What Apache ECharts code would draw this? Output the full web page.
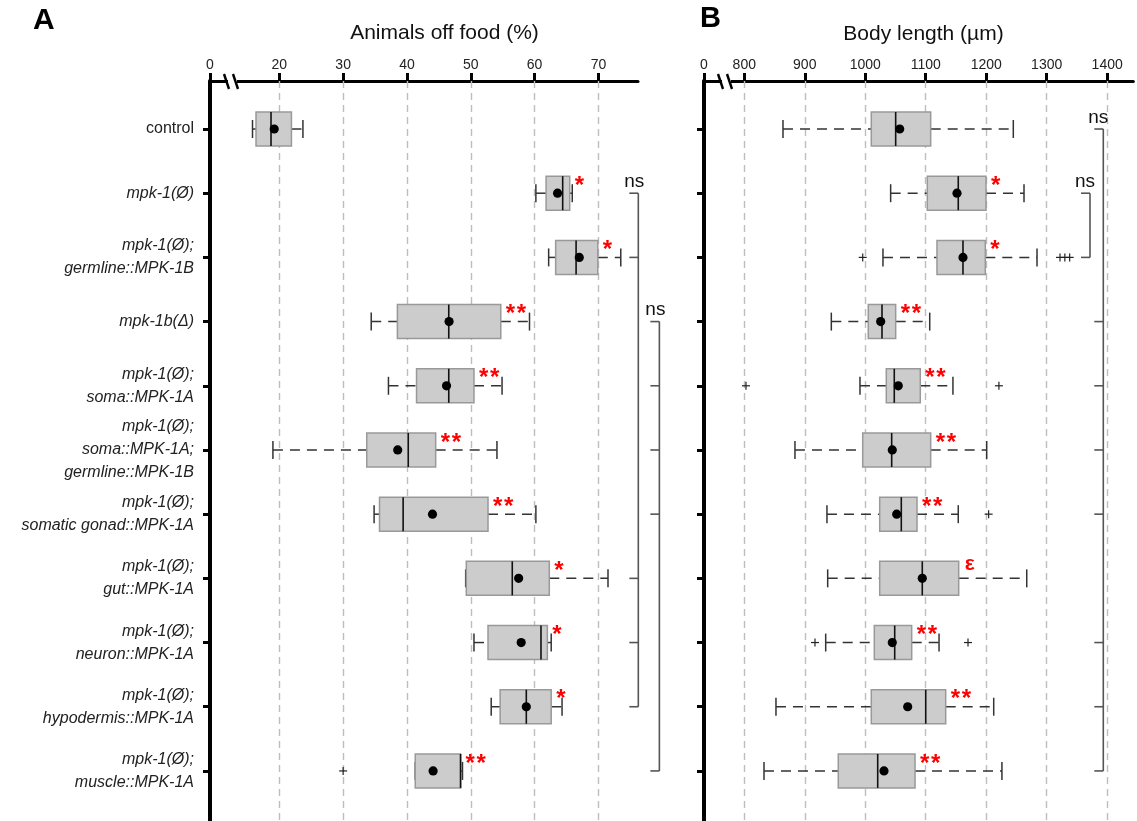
<!DOCTYPE html>
<html><head><meta charset="utf-8">
<script src="https://cdn.jsdelivr.net/npm/echarts@6/dist/echarts.min.js"></script>
<style>html,body{margin:0;padding:0;background:#fff}#c{width:1137px;height:821px}</style>
</head><body><div id="c"></div>
<script>
// ---------- data ----------
const categories = [
  'control',
  'mpk-1(Ø)',
  'mpk-1(Ø);\ngermline::MPK-1B',
  'mpk-1b(Δ)',
  'mpk-1(Ø);\nsoma::MPK-1A',
  'mpk-1(Ø);\nsoma::MPK-1A;\ngermline::MPK-1B',
  'mpk-1(Ø);\nsomatic gonad::MPK-1A',
  'mpk-1(Ø);\ngut::MPK-1A',
  'mpk-1(Ø);\nneuron::MPK-1A',
  'mpk-1(Ø);\nhypodermis::MPK-1A',
  'mpk-1(Ø);\nmuscle::MPK-1A'
];

// Panel A: Animals off food (%)
const offFoodLow    = [15.8, 60.2, 62.2, 34.4, 37.1, 19.0, 34.85, 49.2, 50.5, 53.2, 41.3];
const offFoodQ1     = [16.35, 61.8, 63.3, 38.5, 41.5, 33.7, 35.7, 49.3, 52.7, 54.6, 41.3];
const offFoodMedian = [18.7, 64.4, 66.5, 46.55, 46.55, 40.2, 39.4, 56.5, 61.0, 58.7, 48.4];
const offFoodQ3     = [21.9, 65.5, 69.9, 54.7, 50.5, 44.5, 52.7, 62.3, 62.0, 62.6, 48.4];
const offFoodHigh   = [23.7, 65.9, 73.5, 59.2, 54.9, 54.1, 60.2, 71.5, 62.6, 64.3, 48.7];
const offFoodMean   = [19.2, 63.6, 67.0, 46.6, 46.2, 38.55, 44.0, 57.5, 57.9, 58.7, 44.1];
const offFoodOutliers = [[10, 30.0]];
const offFoodSig = ['', '*', '*', '**', '**', '**', '**', '*', '*', '*', '**'];
const offFoodBrackets = [[1, 2, 7, 8, 9], [3, 4, 5, 6, 10]];
const offFoodBracketLabels = ['ns', 'ns'];
const offFoodTicks = [20, 30, 40, 50, 60, 70];

// Panel B: Body length (µm)
const lengthLow    = [864, 1042, 1029.3, 943.9, 991.3, 883.8, 936.7, 937.9, 934.6, 852.4, 832.6];
const lengthQ1     = [1010, 1102.6, 1118.6, 1005, 1034.8, 995.8, 1023.9, 1023.9, 1015, 1010, 955.4];
const lengthMedian = [1050.3, 1153.8, 1161.6, 1027.7, 1048, 1043.7, 1059.6, 1094.3, 1048.7, 1100, 1020.6];
const lengthQ3     = [1108.2, 1199.6, 1198.5, 1050.3, 1091, 1108.2, 1085.6, 1154.5, 1076.8, 1133, 1082.3];
const lengthHigh   = [1244.8, 1262.5, 1284, 1106.6, 1145, 1200.8, 1153.8, 1267, 1122, 1212.4, 1226];
const lengthMean   = [1057, 1151.7, 1161.6, 1025.5, 1054.6, 1044.7, 1052, 1094.3, 1044.7, 1070.2, 1031];
const lengthOutliers = [[2, 995.8], [2, 1322], [2, 1330], [2, 1338], [4, 802.8], [4, 1221], [6, 1204], [8, 916.9], [8, 1169.9]];
const lengthSig = ['', '*', '*', '**', '**', '**', '**', 'ε', '**', '**', '**'];
const lengthBrackets = [[0, 3, 4, 5, 6, 8, 9, 10], [1, 2]];
const lengthBracketLabels = ['ns', 'ns'];
const lengthTicks = [800, 900, 1000, 1100, 1200, 1300, 1400];

// ---------- layout (axis ranges incl. broken-axis start shown as "0") ----------
const offFoodMin = 9.14, offFoodMax = 76.2;
const lengthMin = 733.4, lengthMax = 1443.2;
const rowMin = -0.748, rowMax = 10.78;
const offFoodBracketX = [76.25, 79.55];
const lengthBracketX = [1393.6, 1371.6];
const FONT = '"Liberation Sans", Arial, sans-serif';
const rowIdx = categories.map((c, i) => i);

function buildRows(lo, q1, med, q3, hi, mean) {
  return lo.map((v, i) => [i, v, q1[i], med[i], q3[i], hi[i], mean[i]]);
}

function boxRenderer(sig) {
  return function (params, api) {
    const row = api.value(0);
    const lo = api.value(1), q1 = api.value(2), med = api.value(3),
          q3 = api.value(4), hi = api.value(5), mean = api.value(6);
    const X = v => api.coord([v, row])[0];
    const y = api.coord([q1, row])[1];
    const band = api.size([0, 1])[1];
    const hh = band * 0.265, ch = band * 0.14;
    const wStyle = { stroke: '#333', lineWidth: 1.5, lineDash: [10, 7] };
    const cStyle = { stroke: '#333', lineWidth: 1.5 };
    const ch_ = [];
    if (X(q1) - X(lo) > 0.5) ch_.push({ type: 'line', shape: { x1: X(lo), y1: y, x2: X(q1), y2: y }, style: wStyle });
    if (X(hi) - X(q3) > 0.5) ch_.push({ type: 'line', shape: { x1: X(q3), y1: y, x2: X(hi), y2: y }, style: wStyle });
    ch_.push({ type: 'line', shape: { x1: X(lo), y1: y - ch, x2: X(lo), y2: y + ch }, style: cStyle });
    ch_.push({ type: 'line', shape: { x1: X(hi), y1: y - ch, x2: X(hi), y2: y + ch }, style: cStyle });
    ch_.push({ type: 'rect', shape: { x: X(q1), y: y - hh, width: X(q3) - X(q1), height: 2 * hh },
      style: { fill: '#cccccc', stroke: '#999999', lineWidth: 1.5 } });
    ch_.push({ type: 'line', shape: { x1: X(med), y1: y - hh, x2: X(med), y2: y + hh }, style: { stroke: '#111', lineWidth: 1.6 } });
    ch_.push({ type: 'circle', shape: { cx: X(mean), cy: y, r: 4.6 }, style: { fill: '#000' } });
    const s = sig[row];
    if (s === 'ε') {
      ch_.push({ type: 'text', style: {
        x: X(q3) + 6, y: y - 14, text: s, fill: '#ff0000', fontFamily: FONT, fontWeight: 'bold',
        fontSize: 21, align: 'left', verticalAlign: 'middle' } });
    } else if (s) {
      for (let k = 0; k < s.length; k++) {
        ch_.push({ type: 'text', style: {
          x: X(q3) + 5 + k * 11, y: y - 7, text: '*', fill: '#ff0000', fontFamily: FONT, fontWeight: 'bold',
          fontSize: 24, align: 'left', verticalAlign: 'middle' } });
      }
    }
    return { type: 'group', children: ch_ };
  };
}

function outlierRenderer(params, api) {
  const p = api.coord([api.value(1), api.value(0)]);
  const a = 4;
  const st = { stroke: '#222', lineWidth: 1.2 };
  return { type: 'group', children: [
    { type: 'line', shape: { x1: p[0] - a, y1: p[1], x2: p[0] + a, y2: p[1] }, style: st },
    { type: 'line', shape: { x1: p[0], y1: p[1] - a, x2: p[0], y2: p[1] + a }, style: st }
  ] };
}

function bracketRenderer(groups, labels, labelDx) {
  return function (params, api) {
    const gi = api.value(2);
    const rows = groups[gi];
    const bx = api.value(0);
    const x = api.coord([bx, rows[0]])[0];
    const yTop = api.coord([bx, Math.min(...rows)])[1];
    const yBot = api.coord([bx, Math.max(...rows)])[1];
    const st = { stroke: '#555', lineWidth: 1.6 };
    const ch_ = [{ type: 'line', shape: { x1: x, y1: yTop, x2: x, y2: yBot }, style: st }];
    rows.forEach(r => {
      const yy = api.coord([bx, r])[1];
      ch_.push({ type: 'line', shape: { x1: x - 9, y1: yy, x2: x, y2: yy }, style: st });
    });
    ch_.push({ type: 'text', style: { x: x + labelDx, y: yTop - 2, text: labels[gi], fill: '#111',
      fontFamily: FONT, fontSize: 19, align: 'center', verticalAlign: 'bottom' } });
    return { type: 'group', children: ch_ };
  };
}

function labelFmt(v) {
  const name = categories[Math.round(v)];
  if (name === undefined) return '';
  const style = name === 'control' ? 'n' : 'i';
  return name.split('\n').map(l => '{' + style + '|' + l + '}').join('\n');
}

function xAxisDef(gi, min, max, ticks) {
  const vals = [min].concat(ticks);
  return {
    gridIndex: gi, type: 'value', position: 'top', min: min, max: max,
    axisLine: { show: true, onZero: false, lineStyle: { color: '#000', width: 3 } },
    axisTick: { show: true, customValues: vals, length: 8, lineStyle: { color: '#000', width: 3 } },
    axisLabel: { customValues: vals, margin: 9, color: '#222', fontSize: 14, fontFamily: FONT,
      formatter: v => (Math.abs(v - min) < 1e-6 ? '0' : String(v)) },
    splitLine: { show: false }
  };
}

function yAxisDef(gi, showLabels) {
  return {
    gridIndex: gi, type: 'value', inverse: true, min: rowMin, max: rowMax,
    axisLine: { show: true, onZero: false, lineStyle: { color: '#000', width: 4 } },
    axisTick: { show: true, customValues: rowIdx, length: 7, lineStyle: { color: '#000', width: 3 } },
    axisLabel: { show: showLabels, customValues: rowIdx, margin: 16, align: 'right', formatter: labelFmt,
      rich: {
        i: { fontStyle: 'italic', fontSize: 16, lineHeight: 23, color: '#222', fontFamily: FONT, align: 'right' },
        n: { fontSize: 16, lineHeight: 23, color: '#222', fontFamily: FONT, align: 'right' }
      } },
    splitLine: { show: false }
  };
}

function gridLineSeries(ai, ticks) {
  return { type: 'scatter', xAxisIndex: ai, yAxisIndex: ai, data: [], silent: true, z: 1,
    markLine: { silent: true, symbol: ['none', 'none'], label: { show: false }, animation: false,
      lineStyle: { color: '#bdbdbd', type: [7, 5], width: 1.4 },
      emphasis: { disabled: true },
      data: ticks.map(v => ({ xAxis: v })) } };
}

const chart = echarts.init(document.getElementById('c'), null, { renderer: 'canvas' });
chart.setOption({
  animation: false,
  backgroundColor: '#fff',
  textStyle: { fontFamily: FONT },
  grid: [
    { left: 210, top: 81, width: 428, height: 740, outerBoundsMode: 'none', containLabel: false },
    { left: 704, top: 81, width: 429.3, height: 740, outerBoundsMode: 'none', containLabel: false }
  ],
  xAxis: [xAxisDef(0, offFoodMin, offFoodMax, offFoodTicks), xAxisDef(1, lengthMin, lengthMax, lengthTicks)],
  yAxis: [yAxisDef(0, true), yAxisDef(1, false)],
  series: [
    gridLineSeries(0, offFoodTicks),
    gridLineSeries(1, lengthTicks),
    { type: 'custom', xAxisIndex: 0, yAxisIndex: 0, z: 5, clip: false,
      data: buildRows(offFoodLow, offFoodQ1, offFoodMedian, offFoodQ3, offFoodHigh, offFoodMean),
      encode: { x: [1, 2, 3, 4, 5, 6], y: 0 }, renderItem: boxRenderer(offFoodSig) },
    { type: 'custom', xAxisIndex: 1, yAxisIndex: 1, z: 5, clip: false,
      data: buildRows(lengthLow, lengthQ1, lengthMedian, lengthQ3, lengthHigh, lengthMean),
      encode: { x: [1, 2, 3, 4, 5, 6], y: 0 }, renderItem: boxRenderer(lengthSig) },
    { type: 'custom', xAxisIndex: 0, yAxisIndex: 0, z: 6, clip: false,
      data: offFoodOutliers, encode: { x: 1, y: 0 }, renderItem: outlierRenderer },
    { type: 'custom', xAxisIndex: 1, yAxisIndex: 1, z: 6, clip: false,
      data: lengthOutliers, encode: { x: 1, y: 0 }, renderItem: outlierRenderer },
    { type: 'custom', xAxisIndex: 0, yAxisIndex: 0, z: 6, clip: false,
      data: offFoodBrackets.map((g, i) => [offFoodBracketX[i], Math.min(...g), i]),
      encode: { x: 0, y: 1 }, renderItem: bracketRenderer(offFoodBrackets, offFoodBracketLabels, -4) },
    { type: 'custom', xAxisIndex: 1, yAxisIndex: 1, z: 6, clip: false,
      data: lengthBrackets.map((g, i) => [lengthBracketX[i], Math.min(...g), i]),
      encode: { x: 0, y: 1 }, renderItem: bracketRenderer(lengthBrackets, lengthBracketLabels, -5) }
  ]
});

// decorations: panel letters, axis titles, axis-break marks
function breakMarks(x0) {
  return [
    { type: 'rect', shape: { x: x0 + 18, y: 77, width: 9, height: 8 }, style: { fill: '#fff' }, z: 100 },
    { type: 'line', shape: { x1: x0 + 14, y1: 74, x2: x0 + 19, y2: 89 }, style: { stroke: '#000', lineWidth: 2.4 }, z: 101 },
    { type: 'line', shape: { x1: x0 + 23, y1: 74, x2: x0 + 28, y2: 89 }, style: { stroke: '#000', lineWidth: 2.4 }, z: 101 }
  ];
}
const ax0 = chart.convertToPixel({ xAxisIndex: 0 }, offFoodMin);
const bx0 = chart.convertToPixel({ xAxisIndex: 1 }, lengthMin);
chart.setOption({
  graphic: [
    { type: 'text', left: 33, top: 6, style: { text: 'A', fontSize: 30, fontWeight: 'bold', fill: '#000', fontFamily: FONT } },
    { type: 'text', left: 700, top: 4, style: { text: 'B', fontSize: 29, fontWeight: 'bold', fill: '#000', fontFamily: FONT } },
    { type: 'text', x: 444.5, y: 33, style: { text: 'Animals off food (%)', fontSize: 21, fill: '#111', fontFamily: FONT, align: 'center', verticalAlign: 'middle' } },
    { type: 'text', x: 923.5, y: 34, style: { text: 'Body length (µm)', fontSize: 21, fill: '#111', fontFamily: FONT, align: 'center', verticalAlign: 'middle' } }
  ].concat(breakMarks(ax0), breakMarks(bx0))
});
</script></body></html>
